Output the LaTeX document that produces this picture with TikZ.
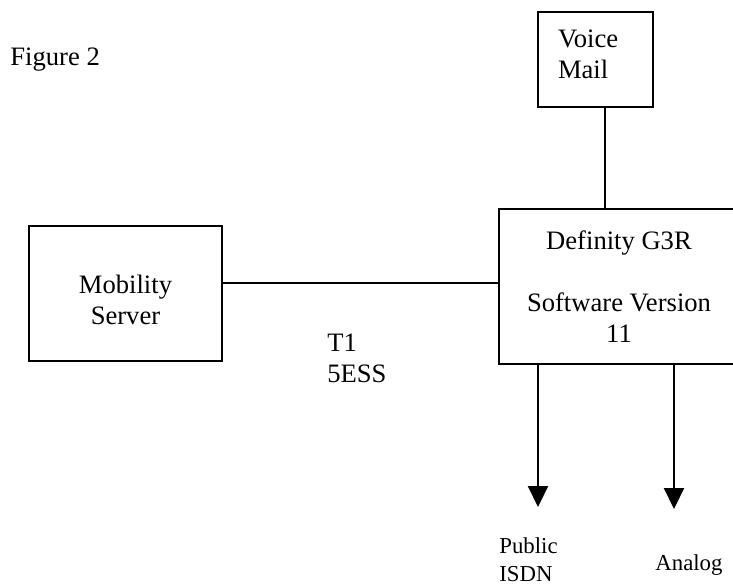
\documentclass[tikz,border=0pt]{standalone}
\usepackage{fontspec}
\setmainfont{Liberation Serif}
\usetikzlibrary{arrows.meta}

\begin{document}
\begin{tikzpicture}[x=0.5pt,y=-0.5pt]
  \tikzstyle{unit}=[draw,line width=1pt,inner sep=0pt,align=center,
    font=\fontsize{13.3}{15.4}\selectfont]
  \tikzstyle{tag}=[inner sep=0pt,align=left,anchor=base west,
    font=\fontsize{13.3}{15.4}\selectfont]
  \tikzstyle{small}=[inner sep=0pt,align=left,anchor=base west,
    font=\fontsize{11.4}{14}\selectfont]
  \tikzstyle{feed}=[line width=1pt,-{Triangle[length=10.5pt,width=10pt]}]
  \useasboundingbox (0,0) rectangle (733,586);
  % caption
  \node (fig) at (10,65) [tag] {Figure 2};
  % boxes
  \node (vm)  at (595.5,59.5)  [unit,minimum width=57.5pt,minimum height=47.5pt,
    text width=37.5pt,align=left] {Voice\\Mail\rule[-5pt]{0pt}{0pt}};
  \node (mob) at (125.5,293.5) [unit,minimum width=96.5pt,minimum height=67.5pt]
    {\rule{0pt}{16pt}Mobility\\Server};
  \node (def) at (619,286.5)   [unit,minimum width=120pt,minimum height=77.5pt]
    {Definity G3R\\[15.4pt]Software Version\\11};
  % links
  \draw[line width=1pt] ([xshift=4.75pt]vm.south) coordinate (vmlink)
    -- (vmlink |- def.north);
  \draw[line width=1pt] ([yshift=5.25pt]mob.east) coordinate (t1link)
    -- (t1link -| def.west);
  \node (t1) at (327,382) [tag] {T1\\5ESS};
  % outgoing trunks
  \coordinate (isdn)   at (538,507);
  \coordinate (analog) at (674,509);
  \draw[feed] (isdn |- def.south) -- (isdn);
  \draw[feed] (analog |- def.south) -- (analog);
  \node (pub) at (499,581) [small] {Public\\ISDN};
  \node (ana) at (655,570) [small] {Analog};
\end{tikzpicture}
\end{document}
